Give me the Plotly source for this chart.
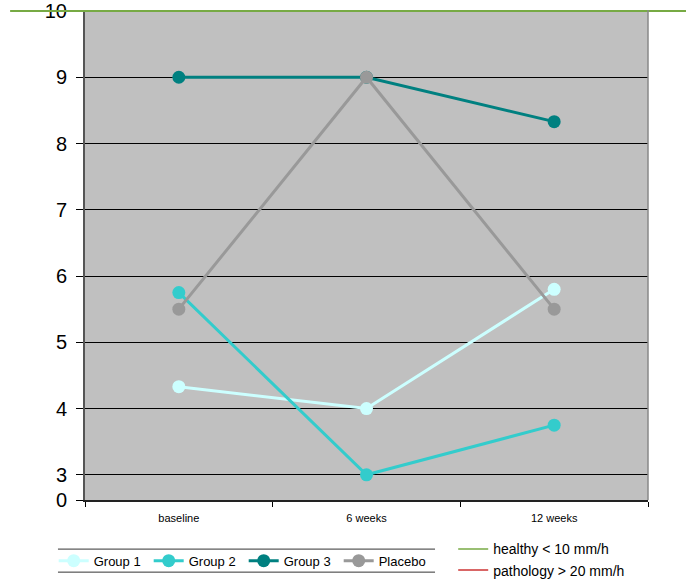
import plotly.graph_objects as go

categories = ["baseline", "6 weeks", "12 weeks"]
group1 = [4.33, 4.0, 5.8]
group2 = [5.75, 3.0, 3.75]
group3 = [9.0, 9.0, 8.33]
placebo = [5.5, 9.0, 5.5]
series_names = ["Group 1", "Group 2", "Group 3", "Placebo"]
series_colors = ["#CCFFFF", "#33CCCC", "#008080", "#999999"]
series_values = [group1, group2, group3, placebo]

# broken y axis: 0 is shown just below 3
y_break = 2.62
y_tickvals = [y_break, 3, 4, 5, 6, 7, 8, 9, 10]
y_ticktext = ["0", "3", "4", "5", "6", "7", "8", "9", "10"]

ref_names = ["healthy < 10 mm/h", "pathology > 20 mm/h"]
ref_values = [10, 20]
ref_colors = ["#77AA44", "#CC3333"]

FONT = "Liberation Sans, Arial, sans-serif"

fig = go.Figure()
for name, vals, col in zip(series_names, series_values, series_colors):
    fig.add_trace(go.Scatter(
        x=categories, y=vals, name=name, mode="lines+markers",
        line=dict(color=col, width=3),
        marker=dict(color=col, size=13),
        legend="legend",
    ))

for name, val, col in zip(ref_names, ref_values, ref_colors):
    fig.add_trace(go.Scatter(
        x=[None], y=[None], name=name, mode="lines",
        line=dict(color=col, width=1.5), legend="legend2",
    ))

# healthy threshold line extending past the plot
fig.add_shape(type="line", xref="paper", yref="y",
              x0=-0.133, x1=1.0675, y0=ref_values[0], y1=ref_values[0],
              line=dict(color="#77AA44", width=2), layer="above")
# right border of plot area
fig.add_shape(type="line", xref="paper", yref="paper",
              x0=1, x1=1, y0=0, y1=1, line=dict(color="#888888", width=1.5), layer="above")
# legend top/bottom rules
for yy in [-0.1002, -0.1472]:
    fig.add_shape(type="line", xref="paper", yref="paper",
                  x0=-0.048, x1=0.6217, y0=yy, y1=yy,
                  line=dict(color="#333333", width=1))

fig.update_layout(
    width=692, height=581,
    margin=dict(l=85, r=44, t=10, b=81, autoexpand=False),
    paper_bgcolor="white", plot_bgcolor="#C0C0C0",
    font=dict(family=FONT, color="black"),
    showlegend=True,
    legend=dict(orientation="h", x=-0.0556, xanchor="left", y=-0.124, yanchor="middle",
                font=dict(size=13, family=FONT), bgcolor="rgba(0,0,0,0)",
                entrywidth=50, itemwidth=30, tracegroupgap=0),
    legend2=dict(orientation="v", x=0.654, xanchor="left", y=-0.122, yanchor="middle",
                 font=dict(size=14, family=FONT), bgcolor="rgba(0,0,0,0)", itemwidth=30,
                 tracegroupgap=0),
    xaxis=dict(type="category", showgrid=False, showline=True, linecolor="#222222",
               linewidth=1.5, ticks="outside", tickson="boundaries", ticklen=5,
               tickcolor="black", tickfont=dict(size=11, family=FONT), zeroline=False,
               range=[-0.5, 2.5], automargin=False, ticklabelstandoff=7),
    yaxis=dict(range=[y_break, 10.015], tickvals=y_tickvals, ticktext=y_ticktext,
               showgrid=True, gridcolor="black", gridwidth=1, showline=True,
               linecolor="#555555", linewidth=2, ticks="outside", ticklen=7,
               tickcolor="black", tickfont=dict(size=20, family=FONT), zeroline=False,
               automargin=False, ticklabelstandoff=5, ticklabeloverflow="allow"),
)

fig.write_html("out.html", config={"displayModeBar": False},
               post_script="document.body.style.margin='0';document.body.style.overflow='hidden';")
